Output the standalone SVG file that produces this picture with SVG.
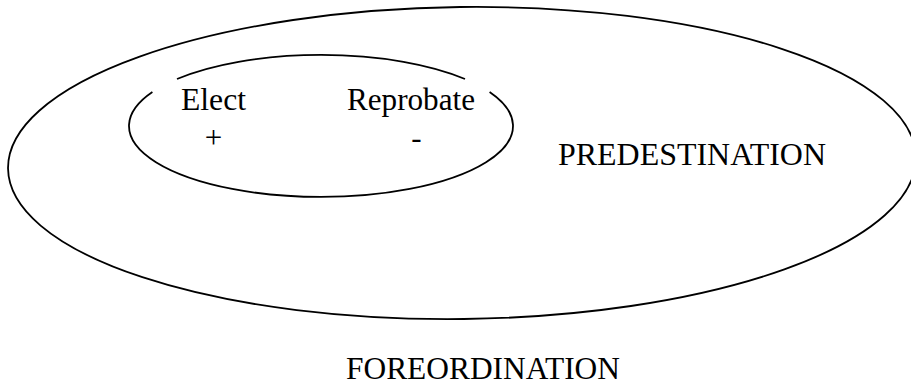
<svg xmlns="http://www.w3.org/2000/svg" width="911" height="390" viewBox="0 0 911 390">
<style>
.shape{fill:none;stroke:#000;stroke-width:1.8}
.lbl{font-family:"Liberation Serif","Times New Roman",serif;font-size:31px;fill:#000}
</style>
<rect width="911" height="390" fill="#fff"/>
<g id="predestination">
<ellipse class="shape" cx="462" cy="163" rx="454" ry="156" transform="rotate(-0.7 462 163)"/>
<text class="lbl" x="558" y="165" textLength="268" lengthAdjust="spacingAndGlyphs">PREDESTINATION</text>
</g>
<g id="elect-reprobate">
<path class="shape" d="M177,79 A192,71 0 0 1 465,79"/>
<path class="shape" d="M489.6,92 A192,71 0 1 1 152.4,92"/>
<text class="lbl" x="181" y="110" textLength="65" lengthAdjust="spacingAndGlyphs">Elect</text>
<text class="lbl" x="347" y="110" textLength="128" lengthAdjust="spacingAndGlyphs">Reprobate</text>
<text class="lbl" x="213.5" y="148" text-anchor="middle">+</text>
<text class="lbl" x="416.5" y="148" text-anchor="middle">-</text>
</g>
<g id="foreordination">
<text class="lbl" x="346" y="379" textLength="274" lengthAdjust="spacingAndGlyphs">FOREORDINATION</text>
</g>
<g id="connectors"></g>
</svg>
